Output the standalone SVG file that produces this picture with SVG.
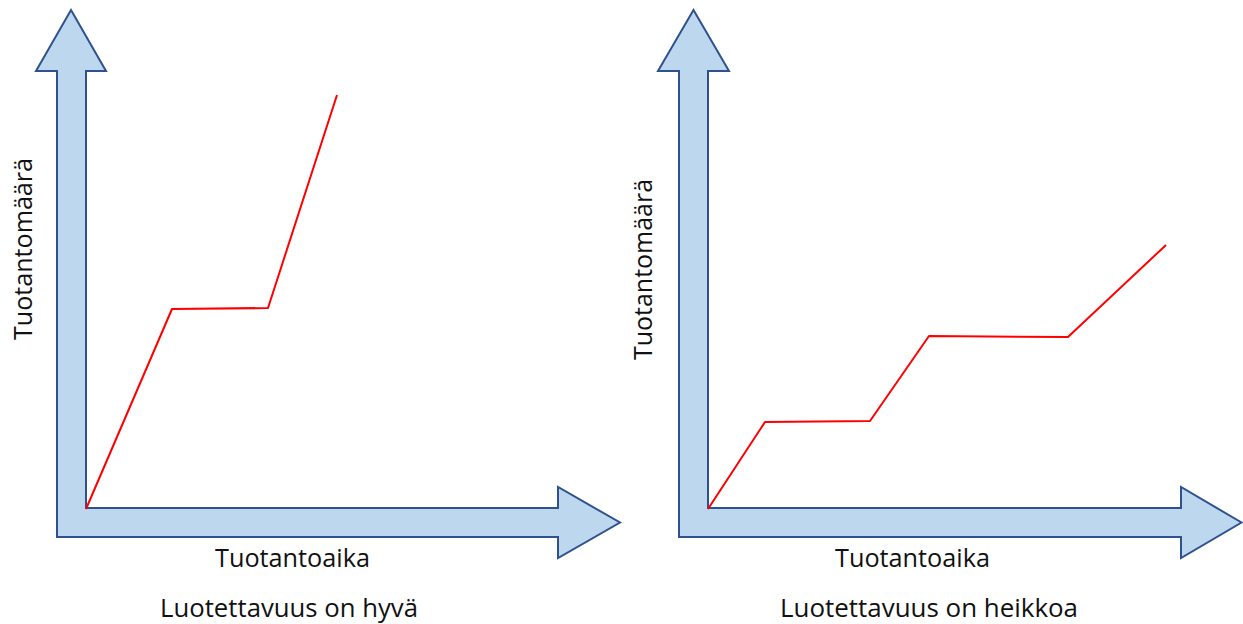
<svg xmlns="http://www.w3.org/2000/svg" width="1243" height="624" viewBox="0 0 1243 624">
  <style>
    .axis { fill: #BDD7EE; stroke: #2F528F; stroke-width: 2; stroke-linejoin: miter; }
    .curve { fill: none; stroke: #FF0000; stroke-width: 2; stroke-linejoin: round; }
    .lbl { font-family: "Open Sans", "Liberation Sans", sans-serif; font-size: 26px; fill: #111; }
  </style>
  <rect width="1243" height="624" fill="#FFFFFF"/>

  <!-- Left chart: good reliability -->
  <g id="chart-good">
    <g id="axes-good">
      <polygon class="axis" points="71,10 106,71 86,71 86,508 558,508 558,487 620,522.5 558,558 558,537 57,537 57,71 36,71"/>
    </g>
    <g id="curve-good">
      <polyline class="curve" points="86,509 172,309 268,308 337,95"/>
    </g>
    <text class="lbl" x="215" y="567" textLength="155" lengthAdjust="spacingAndGlyphs">Tuotantoaika</text>
    <text class="lbl" x="32" y="340" transform="rotate(-90 32 340)" textLength="182" lengthAdjust="spacingAndGlyphs">Tuotantomäärä</text>
    <text class="lbl" x="160" y="616.5" textLength="258" lengthAdjust="spacingAndGlyphs">Luotettavuus on hyvä</text>
  </g>

  <!-- Right chart: weak reliability -->
  <g id="chart-weak">
    <g id="axes-weak">
      <polygon class="axis" points="693.5,10 729,71 708,71 708,508 1181,508 1181,487 1241.5,522.5 1181,558 1181,537 679,537 679,71 658,71"/>
    </g>
    <g id="curve-weak">
      <polyline class="curve" points="708,509 765,422 870,421 929,336 1068,337 1166,245"/>
    </g>
    <text class="lbl" x="835" y="567" textLength="155" lengthAdjust="spacingAndGlyphs">Tuotantoaika</text>
    <text class="lbl" x="652" y="360" transform="rotate(-90 652 360)" textLength="181" lengthAdjust="spacingAndGlyphs">Tuotantomäärä</text>
    <text class="lbl" x="780" y="616.5" textLength="298" lengthAdjust="spacingAndGlyphs">Luotettavuus on heikkoa</text>
  </g>
</svg>
